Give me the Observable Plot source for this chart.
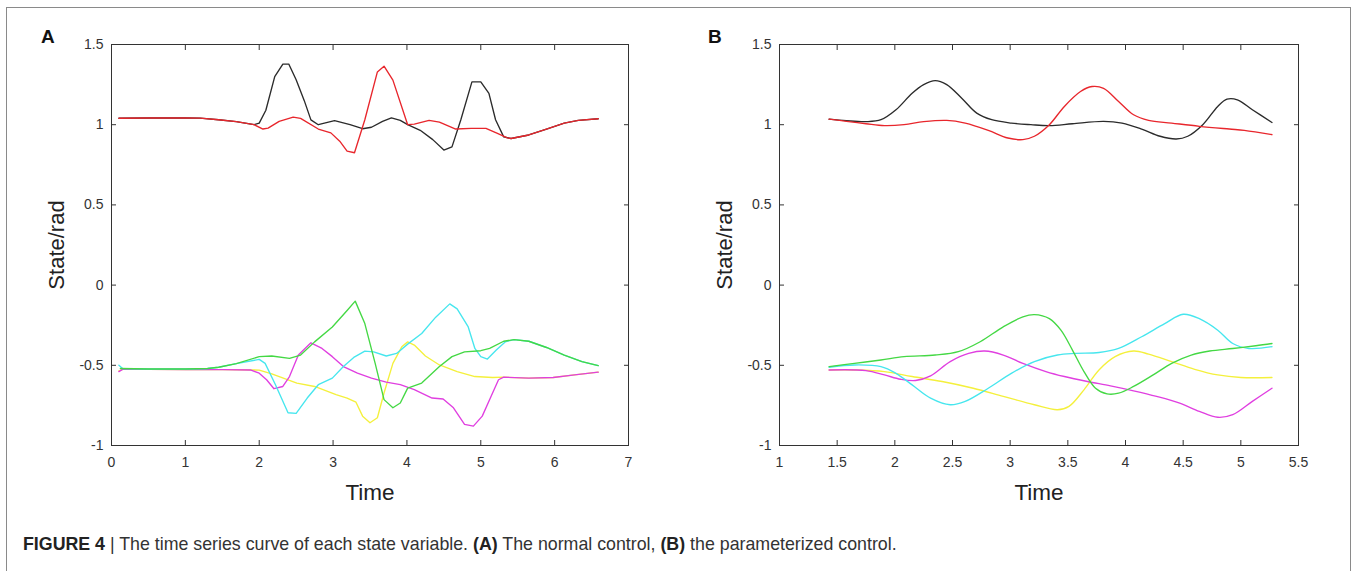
<!DOCTYPE html>
<html>
<head>
<meta charset="utf-8">
<script src="https://cdn.jsdelivr.net/npm/d3@7"></script>
<script src="https://cdn.jsdelivr.net/npm/@observablehq/plot@0.6"></script>
<style>
  html, body { margin: 0; padding: 0; background: #fff; }
  body { width: 1357px; height: 571px; position: relative; overflow: hidden; font-family: "Liberation Sans", Arial, sans-serif; }
  #border { position: absolute; left: 6px; top: 7px; width: 1345px; height: 600px; border: 1px solid #8a8a8a; box-sizing: border-box; }
  .panel { position: absolute; top: 0; }
  .letter { position: absolute; font-weight: bold; font-size: 19px; color: #111; }
  #caption { position: absolute; left: 23px; top: 534px; font-size: 17.8px; color: #333; white-space: nowrap; }
  #caption b { color: #222; }
</style>
</head>
<body>
<div id="border"></div>
<div class="letter" style="left:41px;top:26px">A</div>
<div class="letter" style="left:708px;top:26px">B</div>
<div id="panelA" class="panel" style="left:0px"></div>
<div id="panelB" class="panel" style="left:680px"></div>
<div id="caption"><b>FIGURE 4</b> | The time series curve of each state variable. <b>(A)</b> The normal control, <b>(B)</b> the parameterized control.</div>
<script>
// ---------- Panel A (normal control) ----------
const aBlackT = [0.10,0.50,1.00,1.20,1.45,1.69,1.93,2.00,2.09,2.21,2.32,2.40,2.50,2.61,2.70,2.80,3.02,3.23,3.40,3.52,3.67,3.79,3.91,4.01,4.18,4.35,4.50,4.61,4.73,4.88,5.00,5.11,5.20,5.31,5.41,5.65,5.89,6.13,6.32,6.59];
const aBlackV = [1.040,1.042,1.042,1.041,1.031,1.019,1.000,1.010,1.090,1.300,1.378,1.378,1.280,1.150,1.030,1.000,1.025,1.000,0.975,0.984,1.021,1.043,1.027,1.000,0.965,0.907,0.842,0.862,1.031,1.267,1.267,1.195,1.031,0.924,0.914,0.936,0.973,1.010,1.027,1.037];
const aRedT = [0.10,0.50,1.00,1.20,1.45,1.69,1.93,2.05,2.12,2.27,2.46,2.56,2.80,2.97,3.09,3.19,3.29,3.43,3.60,3.69,3.81,4.01,4.10,4.30,4.44,4.66,4.87,5.07,5.21,5.36,5.41,5.65,5.89,6.13,6.32,6.59];
const aRedV = [1.040,1.042,1.042,1.041,1.031,1.019,1.000,0.973,0.979,1.021,1.047,1.039,0.973,0.949,0.897,0.835,0.825,1.031,1.329,1.365,1.278,1.000,1.004,1.027,1.016,0.973,0.977,0.977,0.949,0.918,0.914,0.936,0.973,1.010,1.027,1.037];
const aGreenT = [0.12,0.50,1.00,1.30,1.45,1.69,2.00,2.17,2.41,2.56,2.75,2.99,3.19,3.30,3.43,3.57,3.69,3.81,3.91,4.01,4.20,4.44,4.61,4.78,5.00,5.12,5.31,5.45,5.65,5.89,6.13,6.37,6.59];
const aGreenV = [-0.520,-0.523,-0.523,-0.520,-0.512,-0.490,-0.446,-0.442,-0.457,-0.436,-0.354,-0.261,-0.158,-0.100,-0.240,-0.488,-0.714,-0.765,-0.735,-0.642,-0.611,-0.508,-0.446,-0.416,-0.409,-0.395,-0.350,-0.340,-0.350,-0.389,-0.436,-0.477,-0.502];
const aCyanT = [0.10,0.15,0.50,1.00,1.30,1.45,1.69,2.00,2.08,2.22,2.39,2.50,2.65,2.80,2.99,3.14,3.28,3.43,3.55,3.72,3.86,4.01,4.20,4.39,4.58,4.68,4.83,4.92,5.00,5.09,5.21,5.33,5.45,5.65,5.89,6.13,6.37,6.59];
const aCyanV = [-0.500,-0.520,-0.523,-0.523,-0.520,-0.512,-0.490,-0.463,-0.488,-0.621,-0.796,-0.800,-0.704,-0.621,-0.580,-0.508,-0.451,-0.412,-0.416,-0.442,-0.426,-0.368,-0.302,-0.200,-0.117,-0.148,-0.261,-0.395,-0.446,-0.461,-0.405,-0.354,-0.340,-0.350,-0.389,-0.436,-0.477,-0.502];
const aYellowT = [0.10,0.15,0.50,1.00,1.50,1.93,2.00,2.17,2.51,2.75,3.04,3.19,3.31,3.40,3.50,3.60,3.69,3.81,3.93,4.01,4.10,4.25,4.44,4.68,4.92,5.16,5.31,5.65,5.98,6.27,6.59];
const aYellowV = [-0.535,-0.525,-0.525,-0.526,-0.527,-0.529,-0.530,-0.553,-0.611,-0.632,-0.683,-0.704,-0.730,-0.817,-0.858,-0.827,-0.673,-0.488,-0.385,-0.354,-0.374,-0.442,-0.498,-0.539,-0.570,-0.576,-0.574,-0.580,-0.576,-0.560,-0.543];
const aMagentaT = [0.10,0.15,0.50,1.00,1.50,1.88,2.00,2.10,2.20,2.32,2.41,2.53,2.70,2.85,2.99,3.14,3.33,3.52,3.72,3.91,4.10,4.34,4.49,4.63,4.78,4.90,5.02,5.14,5.24,5.31,5.65,5.98,6.27,6.59];
const aMagentaV = [-0.539,-0.525,-0.525,-0.526,-0.527,-0.529,-0.549,-0.590,-0.646,-0.632,-0.570,-0.436,-0.360,-0.395,-0.446,-0.508,-0.549,-0.580,-0.605,-0.621,-0.652,-0.704,-0.710,-0.765,-0.868,-0.879,-0.817,-0.693,-0.590,-0.574,-0.580,-0.576,-0.560,-0.543];

// ---------- Panel B (parameterized control) ----------
const bBlackT = [1.43,1.58,1.75,1.88,2.01,2.15,2.25,2.35,2.45,2.58,2.71,2.84,3.01,3.18,3.34,3.54,3.81,3.97,4.14,4.30,4.44,4.54,4.67,4.80,4.88,4.97,5.10,5.27];
const bBlackV = [1.035,1.025,1.019,1.031,1.093,1.196,1.250,1.275,1.250,1.165,1.072,1.031,1.010,1.000,0.994,1.006,1.021,1.010,0.973,0.928,0.911,0.928,1.000,1.114,1.159,1.155,1.093,1.014];
const bRedT = [1.43,1.58,1.75,1.91,2.08,2.25,2.45,2.61,2.81,2.98,3.11,3.21,3.34,3.47,3.61,3.71,3.81,3.94,4.07,4.20,4.40,4.64,4.90,5.03,5.27];
const bRedV = [1.035,1.021,1.006,0.994,1.000,1.019,1.027,1.010,0.965,0.917,0.907,0.928,1.000,1.114,1.207,1.238,1.227,1.145,1.062,1.027,1.010,0.990,0.973,0.965,0.938];
const bGreenT = [1.43,1.65,1.88,2.08,2.35,2.55,2.74,2.94,3.11,3.21,3.34,3.44,3.54,3.64,3.74,3.84,3.94,4.07,4.24,4.40,4.57,4.73,4.93,5.13,5.27];
const bGreenV = [-0.508,-0.488,-0.467,-0.446,-0.436,-0.415,-0.353,-0.260,-0.198,-0.184,-0.209,-0.281,-0.405,-0.539,-0.643,-0.678,-0.674,-0.632,-0.560,-0.488,-0.436,-0.411,-0.395,-0.378,-0.364];
const bCyanT = [1.43,1.65,1.88,2.01,2.15,2.31,2.48,2.61,2.81,3.01,3.21,3.41,3.57,3.77,3.94,4.14,4.34,4.50,4.64,4.80,4.93,5.07,5.27];
const bCyanV = [-0.512,-0.498,-0.508,-0.550,-0.622,-0.705,-0.746,-0.725,-0.643,-0.550,-0.477,-0.436,-0.426,-0.420,-0.395,-0.322,-0.240,-0.182,-0.209,-0.281,-0.364,-0.395,-0.384];
const bYellowT = [1.43,1.65,1.91,2.15,2.41,2.68,2.94,3.21,3.41,3.51,3.64,3.77,3.91,4.07,4.20,4.40,4.60,4.80,5.00,5.27];
const bYellowV = [-0.529,-0.529,-0.539,-0.570,-0.601,-0.643,-0.694,-0.746,-0.777,-0.756,-0.653,-0.529,-0.446,-0.411,-0.430,-0.477,-0.525,-0.560,-0.576,-0.576];
const bMagentaT = [1.43,1.75,1.91,2.05,2.18,2.31,2.48,2.64,2.78,2.94,3.11,3.31,3.47,3.67,3.87,4.07,4.27,4.47,4.64,4.80,4.93,5.10,5.27];
const bMagentaV = [-0.529,-0.533,-0.560,-0.587,-0.595,-0.566,-0.477,-0.426,-0.411,-0.436,-0.488,-0.539,-0.570,-0.601,-0.628,-0.659,-0.694,-0.736,-0.787,-0.824,-0.808,-0.725,-0.643];

// ---------- ticks / labels ----------
const yTicks = [-1, -0.5, 0, 0.5, 1, 1.5];
const xTicksA = [0, 1, 2, 3, 4, 5, 6, 7];
const xTicksB = [1, 1.5, 2, 2.5, 3, 3.5, 4, 4.5, 5, 5.5];
const seriesColors = {black: "#2b2b2b", red: "#e8262c", green: "#44d844", cyan: "#46e6ee", yellow: "#f4f03c", magenta: "#e03fe0"};
const drawOrder = ["yellow", "magenta", "cyan", "green", "black", "red"];

function rows(t, v) { return t.map((x, i) => ({t: x, v: v[i]})); }
const fmt = d => String(d);

function panel(series, xDomain, xTicks, curve, opts) {
  const lines = drawOrder.map(name => Plot.line(rows(series[name][0], series[name][1]), {
    x: "t", y: "v", stroke: seriesColors[name], strokeWidth: 1.35, curve
  }));
  return Plot.plot({
    width: opts.width, height: 520,
    marginLeft: opts.marginLeft, marginRight: 32, marginTop: 44, marginBottom: 75,
    style: {fontFamily: "'Liberation Sans', Arial, sans-serif", background: "transparent"},
    x: {domain: xDomain, ticks: xTicks, label: null},
    y: {domain: [-1, 1.5], ticks: yTicks, label: null},
    marks: [
      ...lines,
      Plot.frame({stroke: "#333", strokeWidth: 1}),
      Plot.axisX(xTicks, {anchor: "bottom", tickSize: -5, tickPadding: 17, tickFormat: fmt, fontSize: 14, color: "#333", stroke: "#333", label: null}),
      Plot.axisX(xTicks, {anchor: "top", tickSize: -5, tickFormat: () => "", stroke: "#333", label: null}),
      Plot.axisY(yTicks, {anchor: "left", tickSize: -5, tickPadding: 13, tickFormat: fmt, fontSize: 14, color: "#333", stroke: "#333", label: null}),
      Plot.axisY(yTicks, {anchor: "right", tickSize: -5, tickFormat: () => "", stroke: "#333", label: null}),
      Plot.text(["State/rad"], {frameAnchor: "left", rotate: -90, dx: opts.yLabelDx, fontSize: 22, fill: "#222", textAnchor: "middle"}),
      Plot.text(["Time"], {frameAnchor: "bottom", dy: 47, fontSize: 22.5, fill: "#222", lineAnchor: "middle"})
    ]
  });
}

const seriesA = {
  black: [aBlackT, aBlackV], red: [aRedT, aRedV], green: [aGreenT, aGreenV],
  cyan: [aCyanT, aCyanV], yellow: [aYellowT, aYellowV], magenta: [aMagentaT, aMagentaV]
};
const seriesB = {
  black: [bBlackT, bBlackV], red: [bRedT, bRedV], green: [bGreenT, bGreenV],
  cyan: [bCyanT, bCyanV], yellow: [bYellowT, bYellowV], magenta: [bMagentaT, bMagentaV]
};

document.getElementById("panelA").appendChild(
  panel(seriesA, [0, 7], xTicksA, "linear", {width: 660, marginLeft: 111, yLabelDx: -55}));
document.getElementById("panelB").appendChild(
  panel(seriesB, [1, 5.5], xTicksB, "catmull-rom", {width: 650, marginLeft: 99, yLabelDx: -55}));
</script>
</body>
</html>
